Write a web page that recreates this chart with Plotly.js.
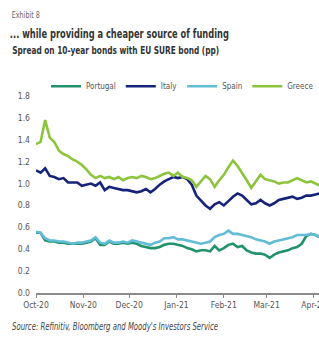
<!DOCTYPE html>
<html>
<head>
<meta charset="utf-8">
<script src="https://cdn.plot.ly/plotly-3.0.1.min.js"></script>
<style>
html,body{margin:0;padding:0;background:#fff;}
#chart{width:319px;height:339px;}
</style>
</head>
<body>
<div id="chart"></div>
<script>
// Dates every 3 days from 1 Oct 2020
const dates = ["2020-10-01","2020-10-04","2020-10-07","2020-10-10","2020-10-13","2020-10-16","2020-10-19","2020-10-22","2020-10-25","2020-10-28",
"2020-10-31","2020-11-03","2020-11-06","2020-11-09","2020-11-12","2020-11-15","2020-11-18","2020-11-21","2020-11-24","2020-11-27",
"2020-11-30","2020-12-03","2020-12-06","2020-12-09","2020-12-12","2020-12-15","2020-12-18","2020-12-21","2020-12-24","2020-12-27",
"2020-12-30","2021-01-02","2021-01-05","2021-01-08","2021-01-11","2021-01-14","2021-01-17","2021-01-20","2021-01-23","2021-01-26",
"2021-01-29","2021-02-01","2021-02-04","2021-02-07","2021-02-10","2021-02-13","2021-02-16","2021-02-19","2021-02-22","2021-02-25",
"2021-02-28","2021-03-03","2021-03-06","2021-03-09","2021-03-12","2021-03-15","2021-03-18","2021-03-21","2021-03-24","2021-03-27",
"2021-03-30","2021-04-02","2021-04-05"];

const portugal = [0.55,0.55,0.48,0.47,0.47,0.46,0.46,0.45,0.45,0.45,
0.45,0.46,0.47,0.50,0.44,0.44,0.47,0.45,0.45,0.46,
0.45,0.46,0.45,0.43,0.42,0.41,0.41,0.42,0.44,0.45,
0.45,0.44,0.43,0.41,0.40,0.38,0.39,0.39,0.38,0.43,
0.39,0.41,0.44,0.45,0.42,0.43,0.39,0.37,0.36,0.36,
0.35,0.32,0.35,0.37,0.38,0.39,0.41,0.42,0.45,0.52,
0.54,0.53,0.51];

const italy = [1.12,1.10,1.14,1.07,1.06,1.04,1.05,1.01,1.01,1.01,
0.98,0.99,1.00,0.98,1.01,0.94,0.97,0.96,0.95,0.94,
0.94,0.93,0.92,0.93,0.95,0.92,0.95,0.99,1.02,1.04,
1.06,1.05,1.06,1.04,0.99,0.89,0.84,0.80,0.77,0.81,
0.83,0.80,0.84,0.88,0.91,0.89,0.85,0.81,0.82,0.85,
0.82,0.80,0.82,0.85,0.86,0.87,0.88,0.86,0.87,0.89,
0.89,0.90,0.91];

const spain = [0.56,0.55,0.50,0.48,0.48,0.47,0.47,0.46,0.45,0.46,
0.46,0.47,0.48,0.51,0.46,0.45,0.48,0.46,0.46,0.47,
0.46,0.48,0.47,0.46,0.45,0.44,0.46,0.47,0.50,0.50,
0.51,0.49,0.49,0.48,0.47,0.46,0.45,0.46,0.47,0.51,
0.53,0.54,0.57,0.54,0.54,0.53,0.52,0.51,0.49,0.48,
0.47,0.45,0.47,0.48,0.49,0.50,0.51,0.53,0.53,0.53,
0.54,0.53,0.51];

const greece = [1.36,1.38,1.58,1.42,1.38,1.30,1.27,1.25,1.22,1.20,
1.17,1.13,1.08,1.05,1.07,1.05,1.06,1.04,1.06,1.03,
1.05,1.06,1.05,1.07,1.06,1.04,1.05,1.07,1.09,1.10,
1.07,1.10,1.06,1.05,1.03,0.97,1.02,1.07,1.04,0.97,
1.03,1.08,1.15,1.21,1.16,1.10,1.03,0.96,1.02,1.08,
1.04,1.03,1.02,1.00,1.01,1.01,1.03,1.05,1.03,1.01,
1.02,1.00,0.98];

const seriesNames = ["Portugal","Italy","Spain","Greece"];
const seriesColors = ["#22916c","#16237a","#62bcd6","#8cc43c"];
const seriesData = [portugal, italy, spain, greece];
const yTickVals = [0,0.2,0.4,0.6,0.8,1.0,1.2,1.4,1.6,1.8];

const FONT = "'DejaVu Sans Condensed', 'Liberation Sans Narrow', 'Liberation Sans', sans-serif";

const traces = seriesNames.map((n,i)=>({
  x: dates, y: seriesData[i], name: n, type:'scatter', mode:'lines',
  line:{color: seriesColors[i], width: 2.6}
}));

// plot area: left 36px, top ~95.7px, bottom at 293px
const L = 36, R = 0, T = 95.7, B = 46, W = 319, H = 339;
const pw = W - L - R, ph = H - T - B;
const px2x = p => (p - L) / pw;
const py2y = p => (H - B - p) / ph;

// target widths (px) for the header/footer texts (centred, then compressed)
const textWidths = [28, 219, 207, 206];

const layout = {
  width: W, height: H,
  margin:{l:L, r:R, t:T, b:B, pad:0},
  paper_bgcolor:'#ffffff', plot_bgcolor:'#ffffff',
  font:{family: FONT, color:'#444', size:9},
  showlegend:true,
  legend:{orientation:'h', x: px2x(55), xanchor:'left', y: py2y(86), yanchor:'middle',
          font:{size:8, color:'#555', family: FONT}, itemgap: 12, bgcolor:'rgba(0,0,0,0)',
          tracegroupgap:0},
  xaxis:{type:'date', range:['2020-10-01','2021-04-04 08:00'],
         tickformat:'%b-%y', dtick:'M1', tick0:'2020-10-01',
         showgrid:false, zeroline:false,
         showline:true, linecolor:'#8a8a8a', linewidth:1.5,
         ticks:'outside', ticklen:3, tickcolor:'#8a8a8a', tickwidth:1,
         tickfont:{size:8.5, color:'#555', family: FONT},
         ticklabeloverflow:'allow', automargin:false},
  yaxis:{range:[0,1.8], tickvals: yTickVals, tickformat:'.1f',
         showgrid:false, zeroline:false, showline:false, ticks:'',
         tickfont:{size:8.5, color:'#555', family: FONT}, automargin:false, ticklabelstandoff:5},
  annotations:[
    {text:'Exhibit 8', xref:'paper', yref:'paper', x:px2x(26), y:py2y(15), xanchor:'center', yanchor:'middle',
     showarrow:false, font:{size:9, color:'#666', family: FONT}},
    {text:'... while providing a cheaper source of funding', xref:'paper', yref:'paper', x:px2x(119.5), y:py2y(33), xanchor:'center', yanchor:'middle',
     showarrow:false, font:{size:13, color:'#333', family: FONT, weight:'bold'}},
    {text:'Spread on 10-year bonds with EU SURE bond (pp)', xref:'paper', yref:'paper', x:px2x(115.5), y:py2y(50), xanchor:'center', yanchor:'middle',
     showarrow:false, font:{size:11, color:'#333', family: FONT, weight:'bold'}},
    {text:'Source: Refinitiv, Bloomberg and Moody\'s Investors Service', xref:'paper', yref:'paper', x:px2x(115), y:py2y(327), xanchor:'center', yanchor:'middle',
     showarrow:false, font:{size:10, color:'#444', family: FONT, style:'italic'}}
  ]
};

Plotly.newPlot('chart', traces, layout, {staticPlot:true, displayModeBar:false}).then(gd => {
  const texts = gd.querySelectorAll('.annotation-text');
  texts.forEach((t, i) => {
    if (textWidths[i]) {
      t.setAttribute('textLength', textWidths[i]);
      t.setAttribute('lengthAdjust', 'spacingAndGlyphs');
    }
  });
});
</script>
</body>
</html>
